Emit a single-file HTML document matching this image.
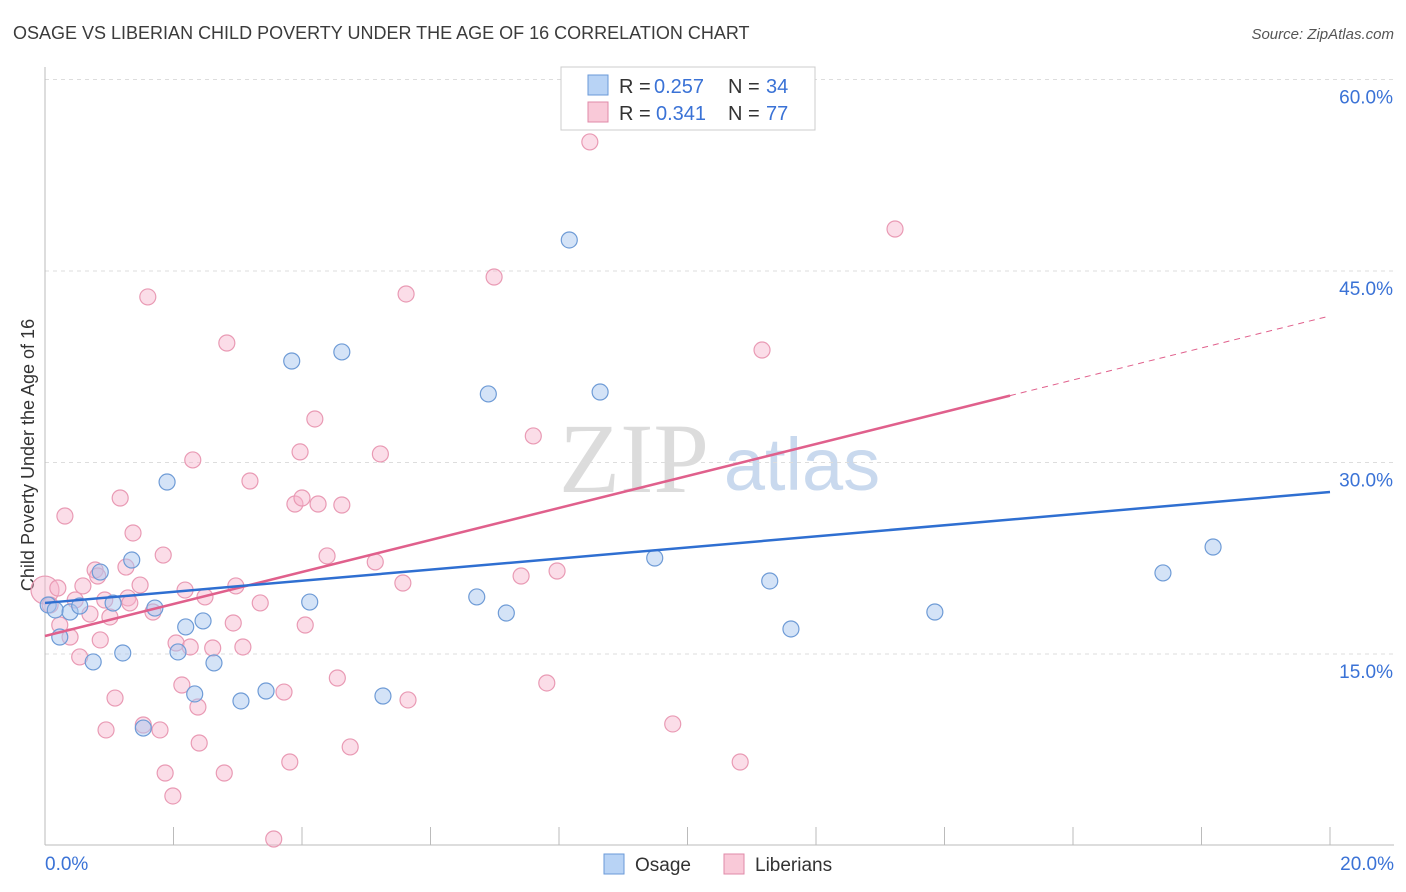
<!DOCTYPE html>
<html><head><meta charset="utf-8">
<style>
body{margin:0;background:#fff;font-family:"Liberation Sans",sans-serif;}
svg{display:block}
</style></head>
<body>
<svg id="chart" width="1406" height="892">
<text x="13" y="39" font-size="18" fill="#3b3b3b">OSAGE VS LIBERIAN CHILD POVERTY UNDER THE AGE OF 16 CORRELATION CHART</text>
<text x="1394" y="39" font-size="15" fill="#555" font-style="italic" text-anchor="end">Source: ZipAtlas.com</text>
<text transform="translate(34,455) rotate(-90)" font-size="18" fill="#333" text-anchor="middle">Child Poverty Under the Age of 16</text>
<g>
<text x="634" y="492" font-size="100" fill="#dcdcdc" font-family="Liberation Serif, serif" text-anchor="middle">ZIP</text>
<text x="802" y="490" font-size="74" fill="#c9d9ee" text-anchor="middle">atlas</text>
</g>
<g id="grid"></g><g id="marks"></g>
<g>
<rect x="561" y="67" width="254" height="63" fill="#fff" stroke="#ccc"/>
<rect x="588" y="75" width="20" height="20" fill="#b8d3f5" stroke="#6a9ad8"/>
<text x="619" y="93" font-size="20" fill="#333">R =</text>
<text x="654" y="93" font-size="20" fill="#3a72d6">0.257</text>
<text x="728" y="93" font-size="20" fill="#333">N =</text>
<text x="766" y="93" font-size="20" fill="#3a72d6">34</text>
<rect x="588" y="102" width="20" height="20" fill="#f9c9d8" stroke="#e08aa8"/>
<text x="619" y="120" font-size="20" fill="#333">R =</text>
<text x="656" y="120" font-size="20" fill="#3a72d6">0.341</text>
<text x="728" y="120" font-size="20" fill="#333">N =</text>
<text x="766" y="120" font-size="20" fill="#3a72d6">77</text>
</g>
<g>
<rect x="604" y="854" width="20" height="20" fill="#b8d3f5" stroke="#6a9ad8"/>
<text x="635" y="871" font-size="19" fill="#333">Osage</text>
<rect x="724" y="854" width="20" height="20" fill="#f9c9d8" stroke="#e08aa8"/>
<text x="755" y="871" font-size="19" fill="#333">Liberians</text>
</g>
</svg>
<script>
const yTicks=[15,30,45,60];
const yTickLabels=["15.0%","30.0%","45.0%","60.0%"];
const xTickLabels=["0.0%","20.0%"];
const osageX=[0.05,0.16,0.23,0.39,0.54,0.75,0.86,1.06,1.21,1.35,1.53,1.71,1.90,2.07,2.19,2.33,2.46,2.63,3.05,3.44,3.84,4.12,4.62,5.26,6.72,6.90,7.18,8.16,8.64,9.49,11.28,11.61,13.85,17.40,18.18];
const osageY=[18.84,18.45,16.33,18.29,18.76,14.38,21.42,18.99,15.08,22.36,9.20,18.60,28.47,15.16,17.12,11.87,17.59,14.30,11.32,12.10,37.95,19.07,38.66,11.71,19.47,35.37,18.21,47.43,35.52,22.52,20.72,16.96,18.29,21.35,23.38];
const libX=[0,0.08,0.20,0.31,0.39,0.54,0.59,0.70,0.78,0.82,0.93,1.01,1.09,0.95,1.17,1.26,1.29,1.37,1.48,1.53,1.60,1.68,1.79,1.84,1.87,1.99,2.04,2.13,2.26,2.30,2.38,2.40,2.49,2.61,2.79,2.83,2.93,2.97,3.08,3.19,3.35,3.56,3.72,3.81,3.89,3.97,4.00,4.05,4.20,4.25,4.39,4.55,4.62,4.75,5.14,5.22,5.57,5.62,5.65,6.99,7.41,7.60,7.81,7.97,8.48,9.77,10.82,11.16,13.23,0.47,1.32,2.18,0.86,0.23];
const libY=[20.01,18.84,20.17,25.81,16.33,14.77,20.33,18.13,21.58,21.11,19.23,17.90,11.55,9.05,27.22,21.81,19.39,24.48,20.40,9.44,42.97,18.29,9.05,22.75,5.68,3.88,15.86,12.57,15.55,30.20,10.85,8.03,19.47,15.47,5.68,39.36,17.43,20.33,15.55,28.55,19.00,0.51,12.02,6.54,26.75,30.83,27.22,17.27,33.41,26.75,22.68,13.12,26.67,7.72,22.21,30.67,20.56,43.20,11.40,44.53,21.11,32.08,12.73,21.50,55.11,9.52,6.54,38.81,48.29,19.23,19.00,20.01,16.10,17.27];
const osageTrend=[19.0,27.69];
const libTrend=[16.41,41.48];
const libSolidEnd=15.02;

const NS="http://www.w3.org/2000/svg";
const X=v=>45+v/20*1285;
const Y=v=>845.5-v/15*191.5;
function el(p,t,a){const e=document.createElementNS(NS,t);for(const k in a)e.setAttribute(k,a[k]);p.appendChild(e);return e;}
const grid=document.getElementById('grid'),marks=document.getElementById('marks');
yTicks.forEach((t,i)=>{
 const g=el(grid,'line',{x1:45,x2:1394,y1:Y(t),y2:Y(t),stroke:'#ddd','stroke-dasharray':'4,4'});
 
 
 const l=el(grid,'text',{x:1393,y:Y(t)+24,'font-size':19,fill:'#3a72d6','text-anchor':'end'});
 l.textContent=yTickLabels[i];
 
 
});
const ax=el(grid,'line',{x1:45,x2:1394,y1:845,y2:845,stroke:'#bbb'});


const ay=el(grid,'line',{x1:45,x2:45,y1:67,y2:845,stroke:'#bbb'});


for(let i=1;i<=10;i++){const tk=el(grid,'line',{x1:X(i*2),x2:X(i*2),y1:827,y2:845,stroke:'#bbb'});
 
 }
[[0,'start',45],[1,'end',1394]].forEach(([i,a,x])=>{const t=el(grid,'text',{x:x,y:870,'font-size':19,fill:'#3a72d6','text-anchor':a});t.textContent=xTickLabels[i];
 
 });
libX.forEach((v,i)=>{const c=el(marks,'circle',{cx:X(v),cy:Y(libY[i]),r:i==0?14:8,fill:'rgba(246,180,203,0.45)',stroke:'#e99ab4','stroke-width':1.2});
 
 });
osageX.forEach((v,i)=>{const c=el(marks,'circle',{cx:X(v),cy:Y(osageY[i]),r:8,fill:'rgba(170,200,240,0.5)',stroke:'#6e9bd6','stroke-width':1.2});
 
 });
const ly=x=>libTrend[0]+(libTrend[1]-libTrend[0])*x/20;
const l1=el(marks,'line',{x1:X(0),y1:Y(libTrend[0]),x2:X(libSolidEnd),y2:Y(ly(libSolidEnd)),stroke:'#e0608c','stroke-width':2.5});


const l2=el(marks,'line',{x1:X(libSolidEnd),y1:Y(ly(libSolidEnd)),x2:X(20),y2:Y(libTrend[1]),stroke:'#e0608c','stroke-width':1,'stroke-dasharray':'6,5'});


const l3=el(marks,'line',{x1:X(0),y1:Y(osageTrend[0]),x2:X(20),y2:Y(osageTrend[1]),stroke:'#2f6fd1','stroke-width':2.5});


</script>
</body></html>
